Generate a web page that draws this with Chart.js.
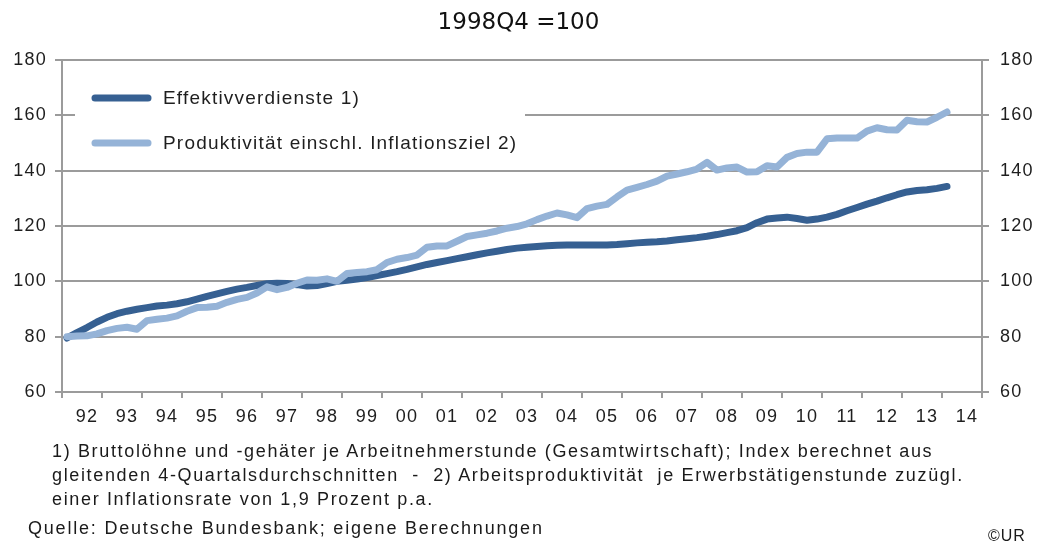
<!DOCTYPE html>
<html lang="de">
<head>
<meta charset="utf-8">
<title>Effektivverdienste und Produktivität</title>
<script src="https://cdn.jsdelivr.net/npm/chart.js@4"></script>
<style>
    body { margin: 0; background: #fff; }
    #wrap { position: relative; width: 1037px; height: 550px; overflow: hidden; }
    #chart { position: absolute; left: 0; top: 0; }
    .txt { position: absolute; font-family: "Liberation Sans", Arial, sans-serif; color: #1a1a1a; white-space: nowrap; }
    #title { left: 0; width: 1037px; top: 8px; text-align: center; font-family: "DejaVu Sans", Verdana, sans-serif; font-size: 23px; color: #111; }
    #notes { left: 52px; top: 439px; font-size: 18px; line-height: 24px; letter-spacing: 1.65px; }
    #source { left: 28px; top: 518px; font-size: 18px; letter-spacing: 1.8px; }
    #copy { left: 988px; top: 527px; font-size: 16px; letter-spacing: 1px; }
</style>
</head>
<body>
<div id="wrap">
    <canvas id="chart" width="1037" height="550"></canvas>
    <div class="txt" id="title">1998Q4 =100</div>
    <div class="txt" id="notes">1) Bruttolöhne und -gehäter je Arbeitnehmerstunde (Gesamtwirtschaft); Index berechnet aus<br>gleitenden 4-Quartalsdurchschnitten &nbsp;- &nbsp;2) Arbeitsproduktivität &nbsp;je Erwerbstätigenstunde zuzügl.<br>einer Inflationsrate von 1,9 Prozent p.a.</div>
    <div class="txt" id="source">Quelle: Deutsche Bundesbank; eigene Berechnungen</div>
    <div class="txt" id="copy">©UR</div>
</div>
<script>
// Year labels on the x axis (each year = 4 quarters)
const years = ['92', '93', '94', '95', '96', '97', '98', '99', '00', '01', '02', '03',
               '04', '05', '06', '07', '08', '09', '10', '11', '12', '13', '14'];
const quarters = years.flatMap(y => ['Q1', 'Q2', 'Q3', 'Q4'].map(q => y + q));

const yTicks = [60, 80, 100, 120, 140, 160, 180];

// Effektivverdienste 1), 1992Q1 .. 2014Q1
const effektiv = [
    79.5, 81.5, 83.3, 85.3, 87.0, 88.3, 89.2, 89.9, 90.5, 91.1, 91.4, 91.9,
    92.6, 93.6, 94.6, 95.5, 96.4, 97.2, 97.8, 98.5, 99.1, 99.3, 99.2, 98.8,
    98.3, 98.5, 99.2, 100.0, 100.4, 100.8, 101.4, 102.1, 102.8, 103.5, 104.3, 105.2,
    106.1, 106.8, 107.5, 108.2, 108.9, 109.6, 110.3, 110.9, 111.5, 112.0, 112.3, 112.6,
    112.9, 113.0, 113.1, 113.1, 113.1, 113.1, 113.1, 113.3, 113.6, 113.9, 114.1, 114.3,
    114.6, 115.0, 115.4, 115.8, 116.3, 116.9, 117.6, 118.3, 119.4, 121.2, 122.5, 122.9,
    123.2, 122.7, 122.1, 122.5, 123.2, 124.2, 125.5, 126.7, 127.9, 129.0, 130.2, 131.3,
    132.3, 132.8, 133.1, 133.6, 134.3
];

// Produktivität einschl. Inflationsziel 2), 1992Q1 .. 2014Q1
const produktivitaet = [
    80.0, 80.2, 80.3, 81.0, 82.2, 83.0, 83.4, 82.7, 85.8, 86.3, 86.7, 87.5,
    89.2, 90.5, 90.6, 91.0, 92.4, 93.5, 94.2, 95.8, 98.0, 97.0, 97.8, 99.3,
    100.5, 100.4, 100.9, 100.0, 102.8, 103.2, 103.5, 104.2, 106.8, 108.0, 108.6, 109.5,
    112.3, 112.8, 112.8, 114.5, 116.2, 116.8, 117.4, 118.2, 119.2, 119.8, 120.8, 122.3,
    123.6, 124.7, 124.0, 123.0, 126.3, 127.2, 127.8, 130.5, 133.0, 134.0, 135.0, 136.2,
    138.0, 138.8, 139.6, 140.6, 143.0, 140.2, 141.0, 141.3, 139.5, 139.6, 141.8, 141.3,
    144.8, 146.2, 146.7, 146.7, 151.5, 151.8, 151.8, 151.8, 154.3, 155.5, 154.8, 154.7,
    158.2, 157.7, 157.6, 159.3, 161.2
];

const darkBlue = '#366092';
const lightBlue = '#95b3d7';
const gridGray = '#9b9b9b';
const textColor = '#1e1e1e';
const tickFont = { family: '"Liberation Sans", Arial, sans-serif', size: 18 };

// Legend box in the upper left of the plot (covers the grid like in Excel)
const legendBox = {
    id: 'legendBox',
    beforeDraw(chart) {
        chart.ctx.letterSpacing = '1.2px';
    },
    beforeDatasetsDraw(chart) {
        const ctx = chart.ctx;
        ctx.save();
        ctx.fillStyle = '#fff';
        ctx.fillRect(75, 76, 450, 86);
        ctx.font = '19px "Liberation Sans", Arial, sans-serif';
        ctx.textBaseline = 'middle';
        ctx.lineCap = 'round';
        chart.data.datasets.forEach((ds, i) => {
            const y = 98 + i * 45;
            ctx.strokeStyle = ds.borderColor;
            ctx.lineWidth = 7;
            ctx.beginPath();
            ctx.moveTo(95, y);
            ctx.lineTo(148, y);
            ctx.stroke();
            ctx.fillStyle = textColor;
            ctx.fillText(ds.label, 163, y + 1);
        });
        ctx.restore();
    }
};

const ctx = document.getElementById('chart').getContext('2d');
new Chart(ctx, {
    type: 'line',
    data: {
        labels: quarters,
        datasets: [{
            label: 'Effektivverdienste 1)',
            data: effektiv,
            borderColor: darkBlue,
            order: 2
        }, {
            label: 'Produktivität einschl. Inflationsziel 2)',
            data: produktivitaet,
            borderColor: lightBlue,
            order: 1
        }]
    },
    options: {
        responsive: false,
        animation: false,
        layout: { padding: { top: 60, left: 0, right: 0, bottom: 0 } },
        elements: {
            point: { radius: 0 },
            line: { borderWidth: 7, tension: 0, borderCapStyle: 'round', borderJoinStyle: 'round' }
        },
        plugins: {
            legend: { display: false },
            title: { display: false },
            tooltip: { enabled: false }
        },
        scales: {
            x: {
                type: 'category',
                display: false,
                offset: true
            },
            xYear: {
                type: 'category',
                position: 'bottom',
                labels: years,
                offset: true,
                grid: { offset: true, drawOnChartArea: false, color: gridGray, lineWidth: 2, tickLength: 6 },
                border: { color: gridGray, width: 2 },
                ticks: { font: tickFont, color: textColor, padding: 8, labelOffset: 5, maxRotation: 0, autoSkip: false },
                afterFit: (scale) => { scale.height = 158; }
            },
            y: {
                position: 'left',
                min: 60,
                max: 180,
                afterBuildTicks: (scale) => { scale.ticks = yTicks.map(v => ({ value: v })); },
                grid: { color: gridGray, lineWidth: 2, tickLength: 7 },
                border: { color: gridGray, width: 2 },
                ticks: { font: tickFont, color: textColor, padding: 8 },
                afterFit: (scale) => { scale.width = 62; }
            },
            y2: {
                position: 'right',
                min: 60,
                max: 180,
                afterBuildTicks: (scale) => { scale.ticks = yTicks.map(v => ({ value: v })); },
                grid: { drawOnChartArea: false, color: gridGray, lineWidth: 2, tickLength: 7 },
                border: { color: gridGray, width: 2 },
                ticks: { font: tickFont, color: textColor, padding: 11 },
                afterFit: (scale) => { scale.width = 55; }
            }
        }
    },
    plugins: [legendBox]
});
</script>
</body>
</html>
